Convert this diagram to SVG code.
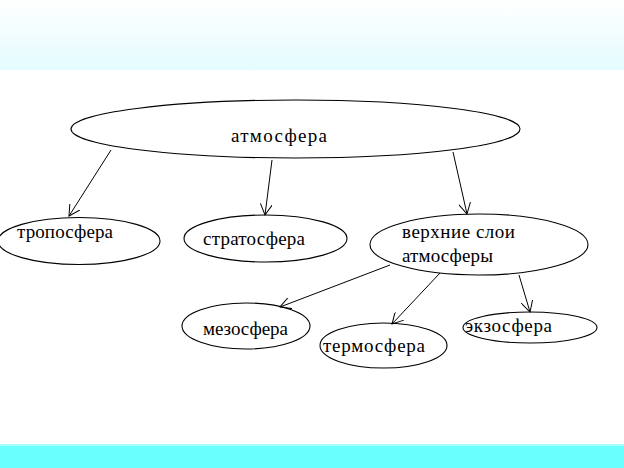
<svg xmlns="http://www.w3.org/2000/svg" width="624" height="468" viewBox="0 0 624 468">
<defs>
<linearGradient id="top" x1="0" y1="0" x2="0" y2="1">
<stop offset="0" stop-color="#ffffff"/>
<stop offset="1" stop-color="#e4fcff"/>
</linearGradient>
<marker id="arr" viewBox="0 0 12 12" refX="11" refY="6" markerWidth="12" markerHeight="12" markerUnits="userSpaceOnUse" orient="auto">
<path d="M0,0 L11,6 L0,12" fill="none" stroke="#000" stroke-width="1"/>
</marker>
</defs>
<style>
.n{fill:#fff;stroke:#000;stroke-width:1.1}
.t{font-family:"Liberation Serif","Times New Roman",serif;font-size:19px;fill:#000}
.c{stroke:#000;stroke-width:1;fill:none;marker-end:url(#arr)}
</style>
<rect x="0" y="0" width="624" height="468" fill="#fff"/>
<rect x="0" y="0" width="624" height="70" fill="url(#top)"/>
<rect x="0" y="445" width="624" height="23" fill="#6affff"/>
<rect x="0" y="444" width="624" height="2" fill="#a8ffff"/>
<g id="atmosfera">
<ellipse class="n" cx="295.5" cy="129" rx="224.5" ry="29"/>
<text class="t" x="231" y="142" textLength="96" lengthAdjust="spacing">атмосфера</text>
</g>
<g id="troposfera">
<ellipse class="n" cx="79" cy="241" rx="81" ry="23.5"/>
<text class="t" x="17" y="238" textLength="96" lengthAdjust="spacing">тропосфера</text>
</g>
<g id="stratosfera">
<ellipse class="n" cx="265.5" cy="238.5" rx="81.5" ry="23.5"/>
<text class="t" x="203" y="245" textLength="102" lengthAdjust="spacing">стратосфера</text>
</g>
<g id="verkhnie">
<ellipse class="n" cx="479" cy="244.5" rx="109" ry="30.5"/>
<text class="t" x="402" y="238" textLength="113" lengthAdjust="spacing">верхние слои</text>
<text class="t" x="402" y="262" textLength="91" lengthAdjust="spacing">атмосферы</text>
</g>
<g id="mezosfera">
<ellipse class="n" cx="246" cy="326" rx="64" ry="23"/>
<text class="t" x="203" y="335" textLength="85" lengthAdjust="spacing">мезосфера</text>
</g>
<g id="termosfera">
<ellipse class="n" cx="383.5" cy="345.5" rx="63.5" ry="22.5"/>
<text class="t" x="323" y="352" textLength="102" lengthAdjust="spacing">термосфера</text>
</g>
<g id="ekzosfera">
<ellipse class="n" cx="530" cy="327.5" rx="67" ry="15.5"/>
<text class="t" x="465" y="332" textLength="87" lengthAdjust="spacing">экзосфера</text>
</g>
<g id="connectors">
<line class="c" x1="111" y1="150" x2="69" y2="216"/>
<line class="c" x1="272" y1="160" x2="265" y2="215"/>
<line class="c" x1="453" y1="152" x2="467" y2="214"/>
<line class="c" x1="390" y1="265" x2="280" y2="307"/>
<line class="c" x1="440" y1="273" x2="392" y2="324"/>
<line class="c" x1="519" y1="275" x2="530" y2="312"/>
</g>
</svg>
